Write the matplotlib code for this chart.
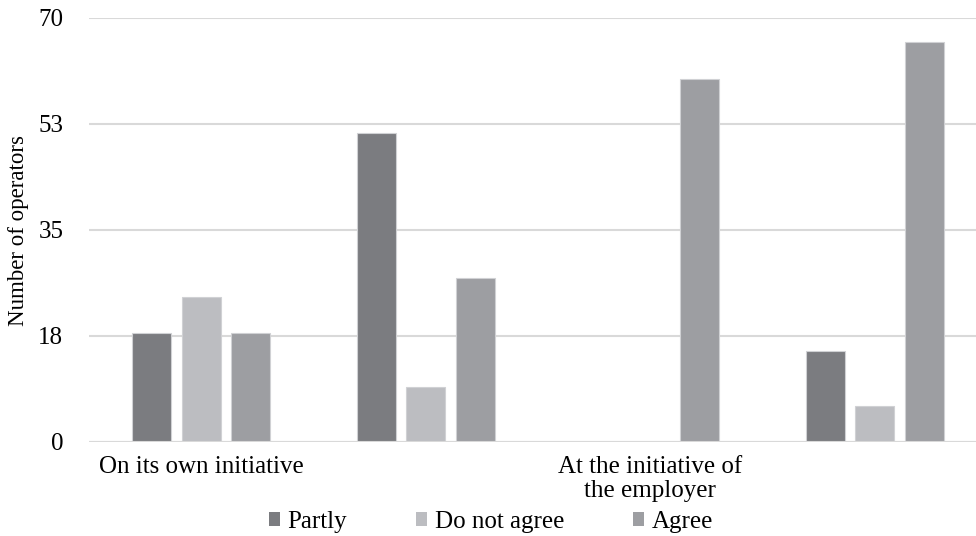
import numpy as np
import matplotlib.pyplot as plt
from matplotlib.patches import Patch

plt.rcParams["font.family"] = ["Liberation Serif", "DejaVu Serif"]

# categories (only two of the four groups carry a label)
categories = ["On its own initiative", "", "At the initiative of\nthe employer", ""]
series = ["Partly", "Do not agree", "Agree"]
partly = [18, 51, 0, 15]
do_not_agree = [24, 9, 0, 6]
agree = [18, 27, 60, 66]
yticks = [0, 17.5, 35, 52.5, 70]
ytick_labels = ["0", "18", "35", "53", "70"]

colors = ["#7b7c80", "#bcbdc1", "#9d9ea2"]
grid_color = "#d9d9d9"
fs = 18

W, H = 976, 536
fig = plt.figure(figsize=(W / 100, H / 100), dpi=100)
ax = fig.add_axes([89 / W, (H - 442) / H, (W - 89) / W, 424 / H])

x = np.arange(len(categories))
width = 0.174
step = 0.22
for i, (vals, col) in enumerate(zip([partly, do_not_agree, agree], colors)):
    ax.bar(x + (i - 1) * step, vals, width, color=col, edgecolor="#d0d1d4",
           linewidth=0.8, zorder=3, label=series[i])

ax.set_xlim(-0.5, 3.45)
ax.set_ylim(0, 70)
ax.set_yticks(yticks)
ax.set_yticklabels(ytick_labels, fontsize=fs)
ax.yaxis.grid(True, color=grid_color, linewidth=1.5, zorder=0)
ax.set_xticks(x)
ax.set_xticklabels(categories, fontsize=fs, linespacing=1.1)
ax.tick_params(axis="both", length=0)
ax.tick_params(axis="y", pad=18.5)
ax.tick_params(axis="x", pad=10)
for s in ax.spines.values():
    s.set_visible(False)
ax.axhline(0, color=grid_color, linewidth=1.5, zorder=4)

ax.set_ylabel("Number of operators", fontsize=16.5)
ax.yaxis.set_label_coords(-60 / (W - 89), 0.5)

handles = [Patch(facecolor=c, edgecolor="none") for c in colors]
fig.legend(handles, series, loc="center", bbox_to_anchor=(491 / W, 1 - 522 / H),
           ncol=3, frameon=False, fontsize=fs, handlelength=0.45, handleheight=0.45,
           handletextpad=0.3, columnspacing=2.75)

fig.savefig("out.png", dpi=100)
